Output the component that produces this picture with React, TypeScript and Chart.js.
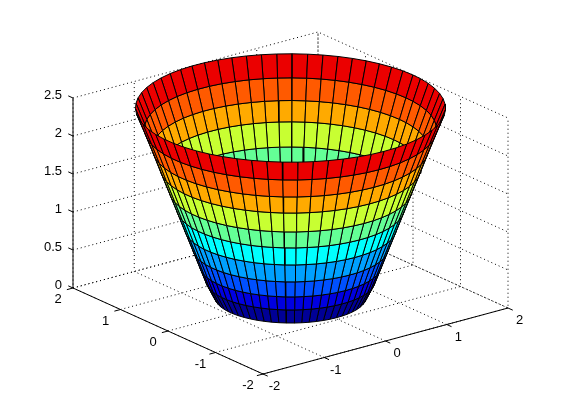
import React, { useEffect, useRef } from "react";
import { Chart, registerables } from "chart.js";

Chart.register(...registerables);

// Surface: rings from bottom to top
const ringZ = [0.02, 0.232, 0.432, 0.662, 0.922, 1.183, 1.428, 1.718, 1.964, 2.225, 2.5];
const ringR = [0.98, 1.092, 1.172, 1.263, 1.367, 1.47, 1.568, 1.684, 1.78, 1.885, 2.0];
const rowColors = [
  "#000096", "#0000e1", "#0050ff", "#00a0ff", "#00ffff",
  "#64ff96", "#c8ff32", "#ffaa00", "#ff5a00", "#eb0000",
];
const angles = [
  0, 0.1, 0.2, 0.3, 0.4, 0.5, 0.6, 0.7, 0.8, 0.9, 1.0, 1.1, 1.2, 1.3, 1.4, 1.5,
  1.6, 1.7, 1.8, 1.9, 2.0, 2.1, 2.2, 2.3, 2.4, 2.5, 2.6, 2.7, 2.8, 2.9, 3.0, 3.1,
  3.2, 3.3, 3.4, 3.5, 3.6, 3.7, 3.8, 3.9, 4.0, 4.1, 4.2, 4.3, 4.4, 4.5, 4.6, 4.7,
  4.8, 4.9, 5.0, 5.1, 5.2, 5.3, 5.4, 5.5, 5.6, 5.7, 5.8, 5.9, 6.0, 6.1, 6.2, 6.2832,
];
const xTicks = [-2, -1, 0, 1, 2];
const yTicks = [-2, -1, 0, 1, 2];
const zTicks = [0, 0.5, 1, 1.5, 2, 2.5];

// Projection of the 3D axes box (view -37.5, 30) onto the figure
const project = (x: number, y: number, z: number) => ({
  x: 290.5 + 61.25 * x - 47.5 * y,
  y: 298 - 16.5 * x - 21.5 * y - 76 * z,
});
const depth = (x: number, y: number, z: number) =>
  -0.528 * x - 0.687 * y + 0.5 * z;

type P3 = [number, number, number];
const lineDs = (pts: P3[], dashed: boolean) => ({
  data: pts.map((p) => project(p[0], p[1], p[2])),
  showLine: true,
  fill: false,
  borderColor: "#000",
  borderWidth: 1,
  borderDash: dashed ? [1, 3] : [],
  pointRadius: 0,
  tension: 0,
});

function buildDatasets() {
  const back: any[] = [];
  for (const t of xTicks) {
    back.push(lineDs([[t, -2, 0], [t, 2, 0], [t, 2, 2.5]], true));
  }
  for (const t of yTicks) {
    back.push(lineDs([[-2, t, 0], [2, t, 0], [2, t, 2.5]], true));
  }
  for (const t of zTicks) {
    back.push(lineDs([[-2, 2, t], [2, 2, t], [2, -2, t]], true));
  }
  const axes: any[] = [
    lineDs([[-2, 2, 0], [-2, 2, 2.5]], false),
    lineDs([[-2, 2, 0], [-2, -2, 0]], false),
    lineDs([[-2, -2, 0], [2, -2, 0]], false),
  ];
  for (const t of xTicks) axes.push(lineDs([[t, -2, 0], [t, -2.1, 0]], false));
  for (const t of yTicks) axes.push(lineDs([[-2, t, 0], [-2.1, t, 0]], false));
  for (const t of zTicks) axes.push(lineDs([[-2, 2, t], [-2, 2.1, t]], false));

  const faces: { d: number; ds: any }[] = [];
  for (let i = 0; i < rowColors.length; i++) {
    for (let j = 0; j < angles.length - 1; j++) {
      const a = angles[j];
      const b = angles[j + 1];
      const corners: P3[] = [
        [ringR[i] * Math.cos(a), ringR[i] * Math.sin(a), ringZ[i]],
        [ringR[i] * Math.cos(b), ringR[i] * Math.sin(b), ringZ[i]],
        [ringR[i + 1] * Math.cos(b), ringR[i + 1] * Math.sin(b), ringZ[i + 1]],
        [ringR[i + 1] * Math.cos(a), ringR[i + 1] * Math.sin(a), ringZ[i + 1]],
        [ringR[i] * Math.cos(a), ringR[i] * Math.sin(a), ringZ[i]],
      ];
      const d =
        corners.slice(0, 4).reduce((s, p) => s + depth(p[0], p[1], p[2]), 0) / 4;
      faces.push({
        d,
        ds: {
          data: corners.map((p) => project(p[0], p[1], p[2])),
          showLine: true,
          fill: "shape",
          backgroundColor: rowColors[i],
          borderColor: "#000",
          borderWidth: 1,
          pointRadius: 0,
          tension: 0,
        },
      });
    }
  }
  faces.sort((p, q) => p.d - q.d);
  // Painted in array order: floor and walls, then axes, then surface back to front
  const painted = [...back, ...axes, ...faces.map((f) => f.ds)];
  return painted.map((ds, idx) => ({ ...ds, order: painted.length - idx, clip: false }));
}

const tickLabels = {
  id: "tickLabels",
  afterDraw(chart: any) {
    const { ctx, scales } = chart;
    const put = (text: string, p: { x: number; y: number }, dx: number, dy: number) => {
      ctx.fillText(text, scales.x.getPixelForValue(p.x) + dx, scales.y.getPixelForValue(p.y) + dy);
    };
    ctx.save();
    ctx.font = '13px "Liberation Sans"';
    ctx.fillStyle = "#000";
    ctx.textBaseline = "middle";
    ctx.textAlign = "center";
    for (const t of xTicks) put(String(t), project(t, -2, 0), 11.5, 12.5);
    for (const t of yTicks) put(String(t), project(-2, t, 0), -15, 11.5);
    ctx.textAlign = "right";
    for (const t of zTicks) put(String(t), project(-2, 2, t), -11, -3);
    ctx.restore();
  },
};

export default function App() {
  const ref = useRef<HTMLCanvasElement>(null);
  useEffect(() => {
    document.body.style.margin = "0";
    const chart = new Chart(ref.current as HTMLCanvasElement, {
      type: "scatter",
      data: { datasets: buildDatasets() as any },
      options: {
        animation: false,
        responsive: false,
        layout: { padding: 0 },
        events: [],
        scales: {
          x: { type: "linear", min: 0, max: 561, display: false },
          y: { type: "linear", min: 0, max: 420, reverse: true, display: false },
        },
        plugins: { legend: { display: false }, tooltip: { enabled: false }, title: { display: false } },
      },
      plugins: [tickLabels as any],
    });
    return () => chart.destroy();
  }, []);
  return (
    <div style={{ width: 561, height: 420, background: "#fff" }}>
      <canvas ref={ref} width={561} height={420} style={{ display: "block" }} />
    </div>
  );
}
